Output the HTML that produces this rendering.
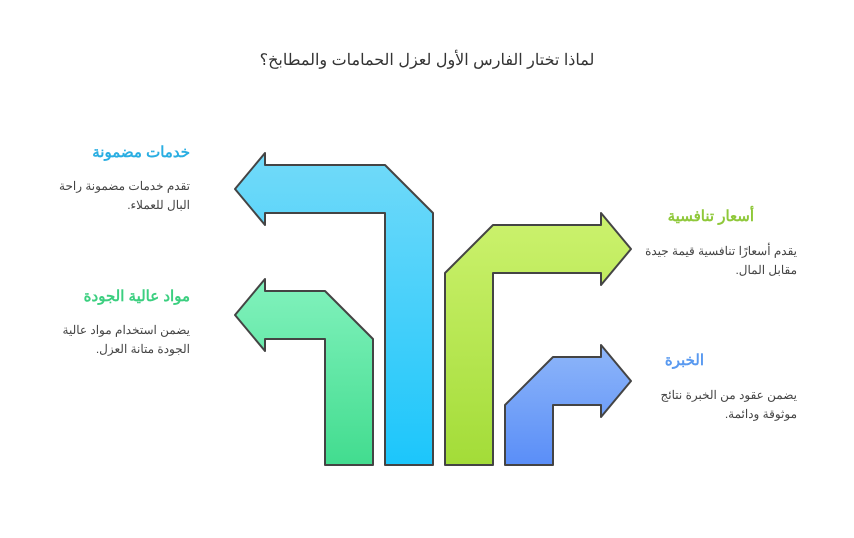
<!DOCTYPE html>
<html><head><meta charset="utf-8"><style>
body{margin:0;background:#fff;width:854px;height:538px;overflow:hidden;font-family:"Liberation Sans","Noto Sans CJK SC",sans-serif;}
.t{position:absolute;direction:rtl;text-align:right;}
.h{font-weight:bold;font-size:15px;}
.b{font-size:12px;color:#444;line-height:19px;}
</style></head><body>
<div class="t" style="left:0;width:854px;text-align:center;top:50px;font-size:16px;color:#333;">لماذا تختار الفارس الأول لعزل الحمامات والمطابخ؟</div>
<svg width="854" height="538" style="position:absolute;left:0;top:0">
<defs>
<linearGradient id="g1" x1="0" y1="0" x2="0" y2="1"><stop offset="0" stop-color="#72daf9"/><stop offset="1" stop-color="#1cc6fb"/></linearGradient>
<linearGradient id="g2" x1="0" y1="0" x2="0" y2="1"><stop offset="0" stop-color="#82f2bd"/><stop offset="1" stop-color="#42dc8f"/></linearGradient>
<linearGradient id="g3" x1="0" y1="0" x2="0" y2="1"><stop offset="0" stop-color="#ccf26e"/><stop offset="1" stop-color="#a3dc38"/></linearGradient>
<linearGradient id="g4" x1="0" y1="0" x2="0" y2="1"><stop offset="0" stop-color="#8eb6f9"/><stop offset="1" stop-color="#5a8ef8"/></linearGradient>
</defs>
<g stroke="#444" stroke-width="2" stroke-linejoin="round">
<polygon fill="url(#g1)" points="433,213 385,165 265,165 265,153 235,189 265,225 265,213 385,213 385,465 433,465"/>
<polygon fill="url(#g2)" points="373,339 325,291 265,291 265,279 235,315 265,351 265,339 325,339 325,465 373,465"/>
<polygon fill="url(#g3)" points="445,273 493,225 601,225 601,213 631,249 601,285 601,273 493,273 493,465 445,465"/>
<polygon fill="url(#g4)" points="505,405 553,357 601,357 601,345 631,381 601,417 601,405 553,405 553,465 505,465"/>
</g>
</svg>
<div class="t h" style="right:664px;top:143px;color:#2aaee2">خدمات مضمونة</div>
<div class="t b" style="right:664px;top:177px;width:150px">تقدم خدمات مضمونة راحة البال للعملاء.</div>
<div class="t h" style="right:664px;top:287px;color:#3ccf80">مواد عالية الجودة</div>
<div class="t b" style="right:664px;top:321px;width:150px">يضمن استخدام مواد عالية الجودة متانة العزل.</div>
<div class="t h" style="left:662px;width:92px;top:207px;color:#8fc83a">أسعار تنافسية</div>
<div class="t b" style="left:637px;width:160px;top:242px">يقدم أسعارًا تنافسية قيمة جيدة مقابل المال.</div>
<div class="t h" style="left:662px;width:42px;top:351px;color:#5a9af0">الخبرة</div>
<div class="t b" style="left:647px;width:150px;top:386px">يضمن عقود من الخبرة نتائج موثوقة ودائمة.</div>
</body></html>
